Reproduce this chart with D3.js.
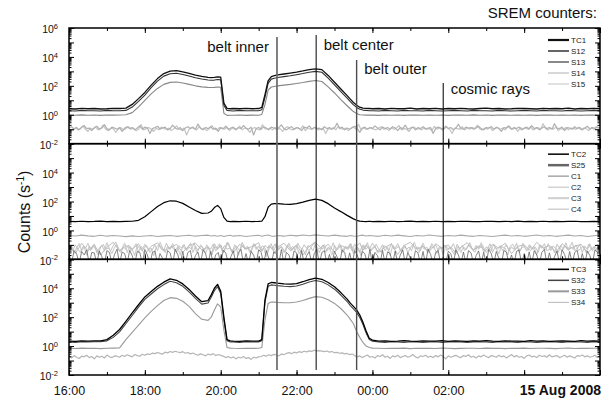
<!DOCTYPE html>
<html>
<head>
<meta charset="utf-8">
<script src="https://cdn.jsdelivr.net/npm/d3@7"></script>
<style>
  body { margin: 0; background: #fff; }
  svg { display: block; font-family: "Liberation Sans", Arial, sans-serif; }
</style>
</head>
<body>
<svg id="chart" width="613" height="402"></svg>
<script>
// SREM count rates, 14 Aug 2008 16:00 UT -> 15 Aug 2008 06:00 UT
const t0 = new Date(2008, 7, 14, 16, 0);
const atMinute = m => new Date(t0.getTime() + m * 60000);

// sampling times (minutes after 16:00): 10 min steps, 5 min around the steep parts
const curveMinutes = d3.merge([d3.range(0, 220, 10), d3.range(220, 260, 5), d3.range(260, 300, 10),
  d3.range(300, 330, 5), d3.range(330, 440, 10), d3.range(440, 480, 5), d3.range(480, 841, 10)]);
// the noisy low counters are read every 4 min, on two interleaved grids
const noiseMinutesA = d3.range(0, 841, 4);
const noiseMinutesB = d3.range(2, 840, 4);

const timeLabels = ["16:00", "18:00", "20:00", "22:00", "00:00", "02:00"];

// ---- top panel
const tc1 = [2.6,2.5,2.8,2.6,2.7,2.5,2.6,2.8,2.7,
  2.9,5.2,13,35,112,316,708,1050,1120,930,720,550,450,
  390,370,380,420,400,6.3,2.8,2.6,
  2.7,2.6,2.8,2.6,
  2.7,3.2,25,224,437,500,
  575,660,760,890,1070,1320,1510,1320,525,178,60,
  21,12,7.1,4.6,3.3,2.9,2.8,2.7,
  2.6,2.7,2.5,2.8,2.6,2.6,2.9,2.5,2.7,2.6,2.8,2.5,2.7,2.6,2.8,2.6,2.5,2.7,2.9,2.6,2.7,2.5,2.6,2.8,2.7,2.6,2.5,2.8,2.6,2.7,2.6,2.9,2.5,2.7,2.6,2.8,2.6];
const s12 = [1.9,1.8,2.0,1.9,1.9,1.8,2.0,1.9,1.9,
  2.0,3.4,8.5,23,74,210,470,690,740,610,475,360,295,
  255,245,250,275,265,4.4,2.0,1.9,
  1.8,2.0,1.9,1.9,
  1.9,2.2,16,148,290,330,
  380,435,500,590,705,870,1000,870,345,118,40,
  14,8.0,4.8,3.2,2.4,2.1,2.0,1.9,
  1.9,1.8,2.0,1.9,1.8,2.0,1.9,1.9,1.8,2.0,1.9,1.8,1.9,2.0,1.9,1.8,2.0,1.9,1.9,1.8,2.0,1.9,1.8,1.9,2.0,1.9,1.8,2.0,1.9,1.9,1.8,2.0,1.9,1.8,1.9,2.0,1.9];
const s13 = [0.95,0.92,0.98,0.93,0.96,0.91,0.97,0.94,0.95,
  1.0,1.4,3.5,10,28,66,126,174,186,158,126,100,85,
  78,76,78,83,79,1.26,0.91,0.93,
  0.92,0.96,0.90,0.94,
  0.93,1.05,5,50,83,91,
  100,112,126,145,170,204,234,200,85,32,11,
  4.2,2.6,1.66,1.2,1.0,0.96,0.94,0.95,
  0.94,0.91,0.97,0.93,0.95,0.90,0.96,0.94,0.92,0.97,0.93,0.95,0.91,0.96,0.94,0.92,0.98,0.93,0.95,0.91,0.96,0.94,0.92,0.97,0.93,0.95,0.90,0.96,0.94,0.92,0.97,0.93,0.95,0.91,0.96,0.94,0.93];
const s14 = [0.12,0.15,0.10,0.13,0.09,0.14,0.18,0.11,0.12,0.08,0.13,0.16,0.10,0.12,0.21,0.11,0.09,0.14,0.12,0.10,
  0.13,0.07,0.12,0.15,0.11,0.13,0.09,0.12,0.17,0.10,0.14,0.12,0.05,0.11,0.13,0.16,0.10,0.12,0.14,0.09,
  0.11,0.19,0.12,0.10,0.13,0.08,0.12,0.15,0.11,0.14,0.10,0.23,0.12,0.09,0.13,0.11,0.15,0.10,0.12,0.07,
  0.13,0.11,0.16,0.10,0.12,0.14,0.09,0.13,0.11,0.18,0.12,0.10,0.14,0.04,0.11,0.13,0.10,0.15,0.12,0.09,
  0.14,0.12,0.10,0.13,0.20,0.11,0.09,0.12,0.15,0.10,0.13,0.11,0.08,0.14,0.12,0.17,0.10,0.13,0.11,0.12,
  0.09,0.15,0.11,0.13,0.10,0.12,0.26,0.11,0.14,0.09,0.12,0.10,0.13,0.16,0.11,0.06,0.12,0.14,0.10,0.13,
  0.11,0.17,0.12,0.09,0.14,0.11,0.13,0.10,0.15,0.12,0.08,0.13,0.11,0.19,0.10,0.12,0.14,0.09,0.13,0.11,
  0.15,0.10,0.12,0.13,0.05,0.11,0.14,0.12,0.10,0.16,0.11,0.13,0.09,0.12,0.22,0.11,0.10,0.14,0.12,0.13,
  0.10,0.12,0.16,0.11,0.09,0.13,0.12,0.15,0.10,0.14,0.11,0.07,0.13,0.12,0.17,0.10,0.13,0.11,0.14,0.09,
  0.12,0.14,0.10,0.18,0.11,0.13,0.09,0.12,0.15,0.11,0.13,0.10,0.24,0.12,0.11,0.14,0.08,0.13,0.12,0.10,
  0.15,0.11,0.13,0.09,0.12,0.16,0.10,0.13,0.11,0.14,0.12];
const s15 = [0.10,0.08,0.13,0.09,0.11,0.16,0.10,0.07,0.12,0.10,0.14,0.09,0.11,0.19,0.10,0.08,0.12,0.11,0.06,0.10,
  0.13,0.09,0.11,0.15,0.10,0.12,0.08,0.10,0.21,0.09,0.11,0.13,0.10,0.07,0.12,0.09,0.14,0.11,0.10,0.12,
  0.08,0.11,0.17,0.10,0.09,0.12,0.04,0.10,0.13,0.11,0.09,0.15,0.10,0.12,0.08,0.11,0.18,0.10,0.09,0.13,
  0.11,0.10,0.14,0.08,0.12,0.10,0.11,0.16,0.09,0.12,0.10,0.06,0.11,0.13,0.10,0.09,0.20,0.11,0.10,0.12,
  0.09,0.13,0.10,0.11,0.07,0.12,0.15,0.10,0.09,0.11,0.13,0.10,0.17,0.08,0.12,0.10,0.11,0.14,0.09,0.10,
  0.12,0.05,0.11,0.10,0.13,0.09,0.16,0.11,0.10,0.12,0.08,0.11,0.14,0.10,0.22,0.09,0.12,0.10,0.11,0.13,
  0.10,0.09,0.12,0.15,0.10,0.11,0.08,0.13,0.10,0.12,0.18,0.09,0.11,0.10,0.07,0.12,0.14,0.10,0.11,0.09,
  0.13,0.10,0.11,0.08,0.16,0.10,0.12,0.09,0.11,0.14,0.10,0.05,0.12,0.11,0.10,0.15,0.09,0.12,0.10,0.13,
  0.11,0.19,0.10,0.09,0.12,0.10,0.14,0.08,0.11,0.13,0.10,0.12,0.09,0.16,0.11,0.10,0.12,0.07,0.13,0.10,
  0.12,0.10,0.15,0.09,0.11,0.13,0.10,0.24,0.11,0.09,0.12,0.10,0.14,0.08,0.11,0.10,0.13,0.09,0.12,0.11,
  0.10,0.14,0.09,0.12,0.11,0.08,0.13,0.10,0.15,0.11];

// ---- middle panel
const tc2 = [4.2,4.0,4.3,4.1,4.2,4.4,4.1,4.2,4.0,
  4.2,4.3,5.0,8.9,20,45,83,112,105,74,42,24,15,
  16,21,38,54,32,7.9,4.4,4.1,
  4.2,4.0,4.3,4.1,
  4.2,4.3,8.9,40,66,72,
  72,66,63,72,91,120,145,120,71,35,20,
  11,8.3,6.3,5.0,4.4,4.2,4.1,4.3,
  4.1,4.2,4.0,4.3,4.1,4.2,4.4,4.0,4.2,4.1,4.3,4.0,4.2,4.1,4.3,4.2,4.0,4.1,4.3,4.2,4.0,4.2,4.1,4.4,4.1,4.2,4.0,4.3,4.1,4.2,4.0,4.2,4.3,4.1,4.0,4.2,4.1];
const s25 = [0.03,0.005,0.04,0.025,0.005,0.035,0.02,0.045,0.005,0.03,0.028,0.005,0.038,0.015,0.005,0.04,0.03,0.005,0.022,0.05,
  0.005,0.032,0.025,0.005,0.042,0.018,0.005,0.035,0.03,0.005,0.048,0.02,0.005,0.03,0.038,0.005,0.025,0.012,0.005,0.04,
  0.028,0.005,0.05,0.022,0.005,0.035,0.005,0.03,0.04,0.005,0.018,0.032,0.005,0.045,0.025,0.005,0.036,0.005,0.02,0.03,
  0.005,0.042,0.028,0.005,0.015,0.038,0.005,0.03,0.05,0.005,0.025,0.005,0.035,0.02,0.005,0.045,0.03,0.005,0.04,0.012,
  0.005,0.033,0.025,0.005,0.048,0.005,0.03,0.02,0.005,0.038,0.028,0.005,0.042,0.005,0.018,0.035,0.005,0.025,0.05,0.005,
  0.03,0.04,0.005,0.022,0.005,0.036,0.015,0.005,0.045,0.03,0.005,0.028,0.005,0.04,0.02,0.005,0.035,0.025,0.005,0.048,
  0.005,0.03,0.018,0.005,0.042,0.005,0.033,0.025,0.005,0.038,0.005,0.02,0.045,0.005,0.03,0.012,0.005,0.04,0.028,0.005,
  0.035,0.005,0.05,0.022,0.005,0.03,0.04,0.005,0.015,0.005,0.036,0.025,0.005,0.045,0.02,0.005,0.032,0.005,0.04,0.028,
  0.005,0.018,0.038,0.005,0.03,0.005,0.048,0.025,0.005,0.035,0.012,0.005,0.042,0.03,0.005,0.02,0.005,0.036,0.045,0.005,
  0.025,0.005,0.033,0.005,0.04,0.02,0.005,0.03,0.05,0.005,0.028,0.005,0.015,0.038,0.005,0.045,0.022,0.005,0.035,0.005,
  0.03,0.042,0.005,0.025,0.005,0.038,0.018,0.005,0.045,0.03,0.005];
const c1 = [0.45,0.41,0.47,0.42,0.39,0.46,0.40,0.44,0.41,0.37,0.42,0.38,0.41,0.44,0.38,0.42,0.45,0.39,0.43,0.46,0.40,0.44,
  0.47,0.41,0.45,0.40,0.44,0.38,0.43,0.46,
  0.40,0.44,0.38,0.43,
  0.46,0.40,0.44,0.48,0.41,0.39,
  0.44,0.40,0.46,0.42,0.48,0.43,0.49,0.45,0.41,0.47,0.42,
  0.39,0.45,0.41,0.38,0.44,0.47,0.41,0.45,
  0.43,0.39,0.46,0.41,0.47,0.42,0.38,0.45,0.41,0.48,0.43,0.39,0.45,0.41,0.47,0.42,0.39,0.45,0.41,0.38,0.43,0.47,0.41,0.45,0.39,0.43,0.48,0.41,0.45,0.39,0.43,0.47,0.41,0.45,0.38,0.43,0.46];
const c2 = [0.07,0.04,0.10,0.05,0.03,0.08,0.06,0.13,0.04,0.09,0.05,0.02,0.07,0.11,0.05,0.06,0.04,0.09,0.16,0.05,
  0.03,0.07,0.05,0.10,0.04,0.06,0.12,0.03,0.08,0.05,0.09,0.04,0.06,0.018,0.07,0.10,0.05,0.04,0.13,0.06,
  0.08,0.05,0.03,0.09,0.06,0.11,0.04,0.07,0.05,0.14,0.03,0.06,0.08,0.04,0.10,0.05,0.02,0.07,0.06,0.12,
  0.04,0.09,0.05,0.06,0.03,0.10,0.07,0.04,0.15,0.05,0.08,0.03,0.06,0.11,0.05,0.04,0.09,0.06,0.025,0.08,
  0.05,0.12,0.04,0.07,0.06,0.03,0.10,0.05,0.08,0.04,0.13,0.06,0.05,0.02,0.09,0.07,0.04,0.11,0.05,0.06,
  0.10,0.03,0.07,0.05,0.14,0.04,0.06,0.09,0.03,0.08,0.05,0.12,0.04,0.07,0.06,0.018,0.10,0.05,0.08,0.04,
  0.06,0.11,0.05,0.03,0.09,0.07,0.04,0.13,0.05,0.06,0.08,0.03,0.10,0.05,0.07,0.04,0.15,0.06,0.03,0.09,
  0.05,0.07,0.04,0.12,0.06,0.025,0.08,0.05,0.10,0.04,0.07,0.06,0.03,0.11,0.05,0.09,0.04,0.06,0.14,0.05,
  0.03,0.08,0.06,0.10,0.04,0.05,0.12,0.03,0.07,0.05,0.09,0.04,0.06,0.02,0.08,0.11,0.05,0.07,0.04,0.13,
  0.06,0.04,0.09,0.05,0.07,0.03,0.10,0.06,0.05,0.12,0.04,0.08,0.06,0.03,0.09,0.05,0.14,0.04,0.07,0.05,
  0.10,0.04,0.06,0.08,0.03,0.11,0.05,0.07,0.04,0.09];
const c3 = [0.05,0.09,0.03,0.06,0.12,0.04,0.07,0.02,0.08,0.05,0.11,0.03,0.06,0.09,0.04,0.14,0.05,0.025,0.07,0.10,
  0.04,0.06,0.13,0.03,0.08,0.05,0.018,0.09,0.06,0.04,0.11,0.07,0.03,0.05,0.10,0.04,0.15,0.06,0.03,0.08,
  0.05,0.12,0.04,0.07,0.02,0.09,0.05,0.06,0.13,0.03,0.08,0.04,0.10,0.06,0.025,0.07,0.05,0.11,0.04,0.06,
  0.09,0.03,0.07,0.14,0.05,0.04,0.08,0.02,0.06,0.10,0.05,0.07,0.03,0.12,0.05,0.08,0.04,0.06,0.016,0.09,
  0.06,0.04,0.11,0.05,0.08,0.03,0.07,0.13,0.04,0.06,0.09,0.025,0.05,0.10,0.06,0.04,0.08,0.15,0.05,0.03,
  0.07,0.10,0.04,0.06,0.02,0.09,0.05,0.12,0.03,0.07,0.05,0.08,0.04,0.11,0.06,0.03,0.09,0.05,0.14,0.04,
  0.06,0.08,0.03,0.05,0.10,0.04,0.07,0.018,0.09,0.06,0.12,0.04,0.05,0.08,0.03,0.06,0.11,0.05,0.07,0.04,
  0.13,0.05,0.03,0.08,0.06,0.10,0.04,0.07,0.02,0.09,0.05,0.06,0.12,0.04,0.08,0.03,0.07,0.05,0.10,0.06,
  0.04,0.09,0.05,0.14,0.03,0.07,0.06,0.04,0.11,0.05,0.025,0.08,0.06,0.10,0.04,0.07,0.05,0.13,0.03,0.06,
  0.08,0.04,0.10,0.05,0.07,0.02,0.09,0.06,0.12,0.04,0.05,0.08,0.03,0.11,0.06,0.04,0.09,0.05,0.07,0.15,
  0.04,0.06,0.10,0.03,0.08,0.05,0.12,0.04,0.07,0.05,0.09];
const c4 = [0.08,0.025,0.13,0.04,0.10,0.02,0.07,0.15,0.035,0.09,0.05,0.12,0.022,0.08,0.14,0.04,0.06,0.11,0.03,0.09,0.13,0.045,
  0.07,0.02,0.12,0.05,0.10,0.03,0.15,0.06,
  0.028,0.11,0.05,0.08,
  0.14,0.035,0.09,0.06,0.12,0.025,
  0.07,0.13,0.04,0.10,0.02,0.08,0.15,0.05,0.11,0.03,0.09,
  0.06,0.12,0.025,0.08,0.14,0.04,0.10,0.05,
  0.13,0.03,0.07,0.11,0.022,0.09,0.15,0.05,0.08,0.035,0.12,0.06,0.10,0.02,0.07,0.14,0.045,0.09,0.03,0.11,0.06,0.13,0.025,0.08,0.10,0.04,0.15,0.06,0.09,0.03,0.12,0.05,0.08,0.11,0.028,0.07,0.13];

// ---- bottom panel
const tc3 = [2.2,2.1,2.3,2.2,2.3,2.3,2.8,5.6,14,
  52,195,720,2500,5900,13500,26300,44700,35500,20000,8300,2900,1180,
  1410,3470,10000,18600,6300,100,2.8,2.3,
  2.2,2.1,2.3,2.2,
  2.2,2.8,1600,20000,25100,24000,
  22400,20000,19100,20900,28200,39800,50100,41700,25100,12600,5000,
  1780,930,560,316,141,45,11,3.5,
  2.6,2.2,2.3,2.1,2.2,2.4,2.2,2.1,2.3,2.2,2.2,2.4,2.1,2.3,2.2,2.1,2.3,2.2,2.4,2.2,2.1,2.3,2.2,2.2,2.1,2.4,2.2,2.3,2.1,2.2,2.3,2.2,2.1,2.4,2.2,2.3,2.2];
const s32 = [1.9,1.8,2.0,1.9,2.0,2.0,2.3,4.0,9.5,
  35,130,490,1700,4000,9200,17900,30400,24100,13600,5600,1970,800,
  960,2360,6800,12700,4300,68,2.3,1.9,
  1.9,1.8,2.0,1.9,
  1.9,2.3,1090,13600,17100,16300,
  15200,13600,13000,14200,19200,27100,34100,28400,17100,8600,3400,
  1210,630,380,215,96,31,8,2.8,
  2.2,1.9,1.8,2.0,1.9,1.8,2.0,1.9,1.8,1.9,2.0,1.8,1.9,2.0,1.9,1.8,1.9,2.0,1.9,1.8,2.0,1.9,1.9,1.8,2.0,1.9,1.8,1.9,2.0,1.9,1.8,2.0,1.9,1.9,1.8,2.0,1.9];
const s33 = [0.70,0.68,0.72,0.69,0.71,0.67,0.70,0.72,0.75,
  2.8,8.9,28,89,251,631,1410,2240,2000,1260,562,178,71,
  60,100,316,832,501,12.6,0.79,0.72,
  0.70,0.68,0.71,0.69,
  0.70,0.79,63,891,1120,1100,
  1050,1000,1000,1120,1410,2000,2630,2400,1590,891,398,
  141,71,35,10,4.0,1.78,1.0,0.79,
  0.72,0.70,0.68,0.71,0.69,0.72,0.67,0.70,0.69,0.71,0.68,0.72,0.70,0.67,0.69,0.71,0.70,0.68,0.72,0.69,0.70,0.67,0.71,0.69,0.72,0.68,0.70,0.71,0.69,0.67,0.70,0.72,0.68,0.70,0.69,0.71,0.70];
const s34 = [0.19,0.15,0.22,0.17,0.14,0.20,0.18,0.23,0.16,0.19,0.13,0.21,0.17,0.20,0.15,0.24,0.18,0.16,0.21,
  0.20,0.17,0.23,0.19,0.25,0.21,0.18,0.26,0.22,0.20,0.27,0.23,
  0.29,0.26,0.33,0.30,0.36,0.31,0.28,0.38,0.34,0.42,0.37,0.44,
  0.39,0.35,0.41,0.32,0.36,0.29,0.33,
  0.27,0.23,0.29,0.25,0.21,0.28,0.24,0.30,0.22,0.26,0.23,
  0.20,0.16,0.19,0.15,0.18,0.13,0.17,0.15,0.19,0.14,0.16,0.12,0.17,0.15,0.18,
  0.19,0.23,0.20,0.25,0.22,0.27,0.24,0.21,0.28,0.26,
  0.31,0.35,0.30,0.38,0.34,0.41,0.37,0.44,0.40,0.47,0.43,0.52,0.46,0.49,
  0.45,0.41,0.46,0.38,0.42,0.35,0.37,0.32,0.34,0.29,0.31,0.26,0.28,
  0.22,0.18,0.21,0.16,0.20,0.24,0.17,0.19,0.15,0.22,0.19,0.25,0.17,0.20,0.14,0.21,0.18,0.23,0.16,0.19,
  0.22,0.17,0.20,0.26,0.18,0.15,0.21,0.19,0.23,0.17,0.20,0.16,0.22,0.18,0.24,0.19,0.13,0.21,0.17,0.20,
  0.23,0.18,0.16,0.22,0.19,0.25,0.17,0.20,0.15,0.21,0.18,0.24,0.19,0.16,0.22,0.20,0.17,0.23,0.18,0.21,
  0.15,0.20,0.26,0.18,0.22,0.17,0.19,0.14,0.21,0.24,0.18,0.20,0.16,0.23,0.19,0.21,0.17,0.25,0.18,0.20,
  0.22,0.16,0.19,0.23,0.17,0.21,0.18,0.15,0.22,0.20,0.24,0.18,0.21,0.17,0.19,0.23,0.16,0.20];

// radiation belt crossings
const beltNames = ["belt inner", "belt center", "belt outer", "cosmic rays"];
const beltMinutes = [329, 391, 455, 592];

// ---------------------------------------------------------------- drawing
const FONT = '"Liberation Sans", Arial, sans-serif';
const svg = d3.select("#chart");
const x = d3.scaleTime().domain([t0, atMinute(840)]).range([69, 600]);
const plotTop = 28, plotBottom = 375;
const panelH = (plotBottom - plotTop) / 3;

const counters = {
  TC1: [tc1, curveMinutes], S12: [s12, curveMinutes], S13: [s13, curveMinutes],
  S14: [s14, noiseMinutesA], S15: [s15, noiseMinutesB],
  TC2: [tc2, curveMinutes], S25: [s25, noiseMinutesA], C1: [c1, curveMinutes],
  C2: [c2, noiseMinutesB], C3: [c3, noiseMinutesA], C4: [c4, curveMinutes],
  TC3: [tc3, curveMinutes], S32: [s32, curveMinutes], S33: [s33, curveMinutes], S34: [s34, noiseMinutesA]
};

// line looks
const looks = {
  TC1: { color: "#111", width: 1.3, legend: 2.2 },
  S12: { color: "#333", width: 1.1, legend: 1.5 },
  S13: { color: "#888", width: 1.1, legend: 2 },
  S14: { color: "#b0b0b0", width: 1.2, legend: 1 },
  S15: { color: "#c4c4c4", width: 1.2, legend: 1 },
  TC2: { color: "#000", width: 1.2, legend: 1.5 },
  S25: { color: "#666", width: 0.8, legend: 2.5 },
  C1: { color: "#a8a8a8", width: 1.1, legend: 1.5 },
  C2: { color: "#bdbdbd", width: 0.9, legend: 1 },
  C3: { color: "#cfcfcf", width: 1.2, legend: 2 },
  C4: { color: "#b8b8b8", width: 0.9, legend: 1 },
  TC3: { color: "#000", width: 1.3, legend: 1.6 },
  S32: { color: "#444", width: 1.1, legend: 1.5 },
  S33: { color: "#999", width: 1.1, legend: 2 },
  S34: { color: "#b5b5b5", width: 1.2, legend: 1 }
};

const panels = [
  { legend: ["TC1", "S12", "S13", "S14", "S15"], draw: ["S15", "S14", "S13", "S12", "TC1"], exps: [-2, 0, 2, 4, 6], legendY: 12 },
  { legend: ["TC2", "S25", "C1", "C2", "C3", "C4"], draw: ["C3", "C4", "C2", "S25", "C1", "TC2"], exps: [-2, 0, 2, 4], legendY: 10.5 },
  { legend: ["TC3", "S32", "S33", "S34"], draw: ["S34", "S33", "S32", "TC3"], exps: [-2, 0, 2, 4], legendY: 10 }
];

const decades = d3.range(-2, 7).map(e => Math.pow(10, e));
const minorY = d3.merge(d3.range(-2, 6).map(e => d3.range(2, 10).map(k => k * Math.pow(10, e))));
const hours2 = d3.timeHour.every(2).range(t0, atMinute(841));
const hours1 = d3.timeHour.every(1).range(t0, atMinute(841));
const fmt = d3.timeFormat("%H:%M");
const defs = svg.append("defs");

function strip(a) {
  a.select(".domain").remove();
  a.attr("font-family", FONT);
  a.selectAll(".tick line").attr("stroke", "#000").attr("stroke-width", 1);
}

panels.forEach((p, i) => {
  const top = plotTop + i * panelH, bottom = top + panelH;
  const y = d3.scaleLog().domain([1e-2, 1e6]).range([bottom, top]);
  const g = svg.append("g");

  defs.append("clipPath").attr("id", "clip" + i).append("rect")
    .attr("x", x.range()[0]).attr("y", top).attr("width", x.range()[1] - x.range()[0]).attr("height", panelH);

  const line = d3.line().x(d => x(d[0])).y(d => y(d[1]));
  const plot = g.append("g").attr("clip-path", `url(#clip${i})`);
  p.draw.forEach(name => {
    const [vals, mins] = counters[name];
    const pts = vals.map((v, k) => [atMinute(mins[k]), v]).filter(d => d[0] <= x.domain()[1]);
    plot.append("path").datum(pts)
      .attr("d", line).attr("fill", "none")
      .attr("stroke", looks[name].color).attr("stroke-width", looks[name].width)
      .attr("stroke-linejoin", "round");
  });

  // time ticks, inward, on both edges of every panel
  [[d3.axisBottom, bottom], [d3.axisTop, top]].forEach(([axisFn, at]) => {
    g.append("g").attr("transform", `translate(0,${at})`)
      .call(axisFn(x).tickValues(hours1).tickSize(-3).tickFormat("")).call(strip);
    const major = axisFn(x).tickValues(hours2).tickSize(-5).tickPadding(11.5)
      .tickFormat(d => (i === 2 && axisFn === d3.axisBottom && timeLabels.includes(fmt(d))) ? fmt(d) : "");
    g.append("g").attr("transform", `translate(0,${at})`).call(major).call(strip)
      .attr("font-size", 12.5).selectAll("text").attr("fill", "#111");
  });

  // count ticks, left and right
  [[d3.axisLeft, x.range()[0]], [d3.axisRight, x.range()[1]]].forEach(([axisFn, at]) => {
    g.append("g").attr("transform", `translate(${at},0)`)
      .call(axisFn(y).tickValues(minorY).tickSize(-2.5).tickFormat("")).call(strip);
    const major = axisFn(y).tickValues(decades).tickSize(-5).tickPadding(11)
      .tickFormat(d => {
        const e = Math.round(Math.log10(d));
        return axisFn === d3.axisLeft && p.exps.includes(e) ? String(e) : "";
      });
    g.append("g").attr("transform", `translate(${at},0)`).call(major).call(strip)
      .attr("font-size", 10.5)
      .call(a => a.selectAll(".tick text").each(function () {
        const t = d3.select(this), e = t.text();
        if (e === "") return;
        t.text(null).attr("dy", "0.45em").attr("fill", "#111");
        t.append("tspan").text("10");
        t.append("tspan").attr("dy", "-0.55em").attr("font-size", 7.5).text(e);
      }));
  });

  g.append("rect").attr("x", x.range()[0]).attr("y", top)
    .attr("width", x.range()[1] - x.range()[0]).attr("height", panelH)
    .attr("fill", "none").attr("stroke", "#000").attr("stroke-width", 1.5);

  // legend
  const leg = g.append("g").attr("font-family", FONT).attr("font-size", 8);
  p.legend.forEach((name, k) => {
    const ly = top + p.legendY + k * 11;
    leg.append("line").attr("x1", 548).attr("x2", 569).attr("y1", ly).attr("y2", ly)
      .attr("stroke", looks[name].color).attr("stroke-width", looks[name].legend);
    leg.append("text").attr("x", 571).attr("y", ly).attr("dy", "0.35em").attr("fill", "#222").text(name);
  });
});

// belt crossing markers
const beltLineTop = [37, 35, 60, 83];
const beltTextY = [52, 50, 74, 94];
const beltAnchor = ["end", "start", "start", "start"];
const beltColor = ["#6a6a6a", "#1a1a1a", "#4d4d4d", "#111"];
const beltWidth = [1.7, 1.1, 1.4, 1.1];
beltNames.forEach((name, k) => {
  const bx = x(atMinute(beltMinutes[k]));
  svg.append("line").attr("x1", bx).attr("x2", bx).attr("y1", beltLineTop[k]).attr("y2", 370)
    .attr("stroke", beltColor[k]).attr("stroke-width", beltWidth[k]);
  svg.append("text").attr("x", beltAnchor[k] === "end" ? bx - 8 : bx + 7.5).attr("y", beltTextY[k])
    .attr("text-anchor", beltAnchor[k]).attr("font-size", 15).attr("fill", "#111").text(name);
});

// titles
svg.append("text").attr("x", 597).attr("y", 18).attr("text-anchor", "end")
  .attr("font-size", 15).attr("fill", "#111").text("SREM counters:");
svg.append("text").attr("x", 601).attr("y", 395).attr("text-anchor", "end")
  .attr("font-size", 14).attr("font-weight", "bold").attr("fill", "#111").text("15 Aug 2008");

const ylab = svg.append("text").attr("transform", "translate(30,212) rotate(-90)")
  .attr("text-anchor", "middle").attr("font-size", 16).attr("fill", "#111");
ylab.append("tspan").text("Counts (s");
ylab.append("tspan").attr("dy", -6).attr("font-size", 10).text("-1");
ylab.append("tspan").attr("dy", 6).text(")");
</script>
</body>
</html>
